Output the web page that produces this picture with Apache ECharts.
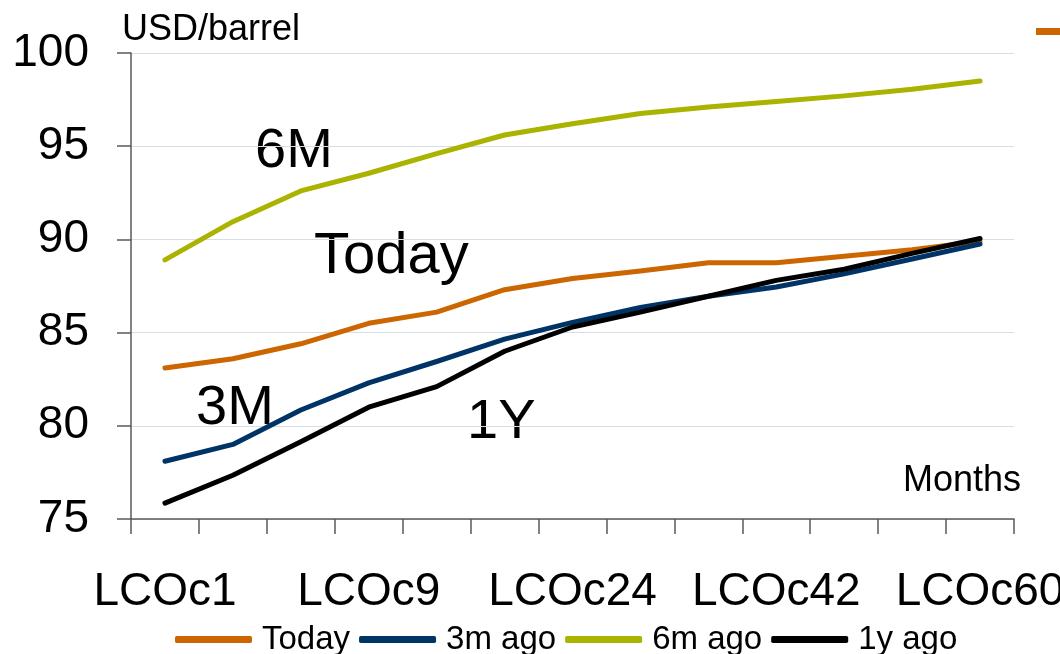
<!DOCTYPE html>
<html>
<head>
<meta charset="utf-8">
<script src="https://cdn.jsdelivr.net/npm/echarts@6/dist/echarts.min.js"></script>
<style>
  html, body { margin: 0; padding: 0; background: #fff; overflow: hidden; }
  #chart { width: 1060px; height: 654px; }
</style>
</head>
<body>
<div id="chart"></div>
<script>
// Brent (LCO) forward curves, USD/barrel, by contract month
const categories = ['LCOc1', 'LCOc3', 'LCOc6', 'LCOc9', 'LCOc12', 'LCOc18', 'LCOc24',
                    'LCOc30', 'LCOc36', 'LCOc42', 'LCOc48', 'LCOc54', 'LCOc60'];
const today   = [83.1, 83.6, 84.4, 85.5, 86.1, 87.3, 87.9, 88.3, 88.75, 88.75, 89.1, 89.45, 89.9];
const ago3m   = [78.1, 79.0, 80.85, 82.3, 83.45, 84.65, 85.55, 86.35, 86.95, 87.45, 88.15, 88.95, 89.75];
const ago6m   = [88.9, 90.95, 92.6, 93.55, 94.6, 95.6, 96.2, 96.75, 97.1, 97.4, 97.7, 98.05, 98.5];
const ago1y   = [75.85, 77.35, 79.15, 81.0, 82.1, 84.0, 85.3, 86.1, 86.95, 87.8, 88.4, 89.25, 90.05];
const yTicks  = { min: 75, max: 100, step: 5 };

const FONT = '"Liberation Sans", Arial, Helvetica, sans-serif';
const COLORS = { today: '#CC6600', m3: '#003366', m6: '#A9B300', y1: '#000000' };

function line(name, data, color) {
  return {
    name: name,
    type: 'line',
    data: data,
    symbol: 'none',
    smooth: false,
    lineStyle: { color: color, width: 5, cap: 'round', join: 'round' },
    itemStyle: { color: color },
    emphasis: { disabled: true }
  };
}

const chart = echarts.init(document.getElementById('chart'), null, { renderer: 'canvas' });

chart.setOption({
  animation: false,
  backgroundColor: '#ffffff',
  textStyle: { fontFamily: FONT },
  grid: {
    left: 131, right: 46, top: 53, bottom: 135,
    containLabel: false,
    outerBoundsMode: 'none'
  },
  xAxis: {
    type: 'category',
    data: categories,
    boundaryGap: true,
    axisLine: { show: true, lineStyle: { color: '#595959', width: 1.5 } },
    axisTick: { show: true, length: 15, interval: 0, lineStyle: { color: '#595959', width: 1.5 } },
    axisLabel: {
      interval: 2,
      margin: 50,
      fontSize: 46,
      color: '#000',
      fontFamily: FONT,
      hideOverlap: false
    },
    splitLine: { show: false }
  },
  yAxis: {
    type: 'value',
    min: yTicks.min,
    max: yTicks.max,
    interval: yTicks.step,
    axisLine: { show: true, lineStyle: { color: '#595959', width: 1.5 } },
    axisTick: { show: true, length: 14, lineStyle: { color: '#595959', width: 1.5 } },
    axisLabel: { margin: 42, fontSize: 46, color: '#000', fontFamily: FONT },
    splitLine: { show: true, lineStyle: { color: '#d6dfe7', width: 1.2 } }
  },
  legend: [
    {
      data: ['Today', '3m ago', '6m ago', '1y ago'],
      left: 175,
      top: 623,
      padding: 0,
      orient: 'horizontal',
      icon: 'roundRect',
      itemWidth: 77,
      itemHeight: 7,
      itemGap: 9,
      selectedMode: false,
      textStyle: { fontSize: 33, color: '#000', fontFamily: FONT, padding: [0, 0, 0, 5] }
    },
    {
      data: ['Today'],
      left: 1036,
      top: 28,
      padding: 0,
      orient: 'horizontal',
      icon: 'rect',
      itemWidth: 60,
      itemHeight: 7,
      selectedMode: false,
      textStyle: { fontSize: 7, color: '#000', fontFamily: FONT }
    }
  ],
  graphic: [
    { type: 'text', left: 122, top: 12, style: { text: 'USD/barrel', font: '36px ' + FONT, fill: '#000' } },
    { type: 'text', left: 903, top: 463, style: { text: 'Months', font: '36px ' + FONT, fill: '#000' } },
    { type: 'text', left: 255, top: 124, style: { text: '6M', font: '56px ' + FONT, fill: '#000' } },
    { type: 'text', left: 314, top: 228, style: { text: 'Today', font: '58px ' + FONT, fill: '#000' } },
    { type: 'text', left: 196, top: 381, style: { text: '3M', font: '56px ' + FONT, fill: '#000' } },
    { type: 'text', left: 467, top: 395, style: { text: '1Y', font: '56px ' + FONT, fill: '#000' } }
  ],
  series: [
    line('Today', today, COLORS.today),
    line('3m ago', ago3m, COLORS.m3),
    line('6m ago', ago6m, COLORS.m6),
    line('1y ago', ago1y, COLORS.y1)
  ]
});
</script>
</body>
</html>
